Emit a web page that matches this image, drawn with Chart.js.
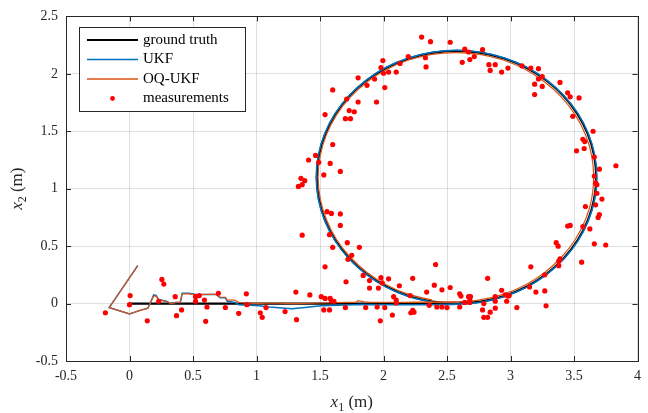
<!DOCTYPE html>
<html>
<head>
<meta charset="utf-8">
<script src="https://cdn.jsdelivr.net/npm/chart.js@4/dist/chart.umd.min.js"></script>
<style>
  html, body { margin: 0; padding: 0; background: #fff; }
  #wrap { width: 648px; height: 413px; }
</style>
</head>
<body>
<div id="wrap"><canvas id="myChart" width="648" height="413"></canvas></div>
<script>
(function(){
  'use strict';

  const truthX = [0, 1.2, 2.4, 2.575, 2.766, 2.951, 3.125, 3.282, 3.418, 3.528, 3.609, 3.658, 3.675,
    3.658, 3.609, 3.528, 3.418, 3.282, 3.125, 2.951, 2.766, 2.575, 2.384, 2.199, 2.025, 1.868,
    1.732, 1.622, 1.541, 1.492, 1.475, 1.492, 1.541, 1.622, 1.732, 1.868, 2.025, 2.199, 2.384, 2.575];
  const truthY = [0, 0, 0, 0, 0.017, 0.066, 0.147, 0.257, 0.393, 0.55, 0.724, 0.909, 1.10,
    1.291, 1.476, 1.65, 1.807, 1.943, 2.053, 2.134, 2.183, 2.20, 2.183, 2.134, 2.053, 1.943,
    1.807, 1.65, 1.476, 1.291, 1.10, 0.909, 0.724, 0.55, 0.393, 0.257, 0.147, 0.066, 0.017, 0];

  // estimates: jagged straight run, then the loop
  const ukfRunX = [0.065, -0.16, 0.0, 0.09, 0.145, 0.17, 0.19, 0.21, 0.23, 0.29, 0.325, 0.365, 0.40,
    0.415, 0.47, 0.52, 0.60, 0.68, 0.715, 0.755, 0.77, 0.83, 0.86, 0.95, 1.02, 1.10, 1.15, 1.28,
    1.38, 1.51, 1.70, 1.82, 2.10, 2.40, 2.575];
  const ukfRunY = [0.33, -0.035, -0.09, -0.057, -0.04, 0.02, 0.075, 0.07, 0.035, 0.02, 0.0, 0.01, 0.01,
    0.09, 0.09, 0.08, 0.08, 0.08, 0.05, 0.05, 0.02, 0.01, -0.01, -0.015, -0.02, -0.03, -0.035, -0.045,
    -0.035, -0.02, -0.012, -0.008, -0.01, -0.01, -0.005];
  const ukfLoopX = [2.40, 2.575, 2.767, 2.953, 3.128, 3.285, 3.421, 3.532, 3.613,
    3.663, 3.680, 3.663, 3.613, 3.532, 3.421, 3.285, 3.128, 2.953, 2.767, 2.575, 2.383, 2.197,
    2.022, 1.865, 1.729, 1.618, 1.537, 1.487, 1.470, 1.487, 1.537, 1.618, 1.729, 1.865, 2.022,
    2.197, 2.383];
  const ukfLoopY = [-0.01, -0.005, 0.012, 0.062, 0.143, 0.254, 0.390, 0.548,
    0.722, 0.908, 1.10, 1.292, 1.478, 1.653, 1.810, 1.946, 2.057, 2.138, 2.188, 2.205, 2.188, 2.138,
    2.057, 1.946, 1.810, 1.653, 1.478, 1.292, 1.10, 0.908, 0.722, 0.548, 0.390, 0.254, 0.143,
    0.062, 0.012];

  const oqRunX = [0.065, -0.16, 0.0, 0.09, 0.145, 0.17, 0.19, 0.21, 0.23, 0.29, 0.325, 0.365, 0.40,
    0.415, 0.47, 0.52, 0.60, 0.68, 0.715, 0.755, 0.77, 0.83, 0.86, 0.91, 1.02, 1.10, 1.30, 1.50,
    1.70, 1.78, 1.80, 1.85, 1.90, 2.20, 2.57];
  const oqRunY = [0.33, -0.035, -0.09, -0.057, -0.04, 0.02, 0.065, 0.065, 0.03, 0.02, 0.0, 0.01, 0.01,
    0.085, 0.085, 0.075, 0.08, 0.08, 0.055, 0.055, 0.03, 0.03, 0.01, 0.005, 0.0, 0.005, 0.0, 0.005,
    0.01, 0.01, 0.025, 0.015, 0.01, 0.01, 0.015];
  const oqLoopX = [2.20, 2.57, 2.758, 2.941, 3.113, 3.267, 3.401, 3.510, 3.590,
    3.639, 3.655, 3.639, 3.590, 3.510, 3.401, 3.267, 3.113, 2.941, 2.758, 2.57, 2.382, 2.199,
    2.028, 1.873, 1.739, 1.630, 1.551, 1.502, 1.485, 1.502, 1.551, 1.630, 1.739, 1.873, 2.028,
    2.199, 2.382];
  const oqLoopY = [0.01, 0.015, 0.032, 0.080, 0.160, 0.269, 0.403, 0.558, 0.729,
    0.912, 1.10, 1.288, 1.471, 1.643, 1.797, 1.931, 2.040, 2.120, 2.169, 2.185, 2.169, 2.120,
    2.040, 1.931, 1.797, 1.643, 1.471, 1.288, 1.10, 0.912, 0.729, 0.558, 0.403, 0.269, 0.160,
    0.080, 0.032];

  const measX = [-0.19, 0.005, 0.0, 0.255, 0.27, 0.14, 0.23, 0.36, 0.37, 0.41, 0.52, 0.55, 0.52, 0.59,
    0.61, 0.60, 0.70, 0.755, 0.86, 0.92, 0.925, 1.03, 1.045, 1.075, 1.225, 1.31, 1.315, 1.42, 1.54,
    1.51, 1.54, 1.58, 1.59, 1.61, 1.53, 1.575, 1.70, 1.705, 1.84, 1.89, 1.89, 1.86, 1.95, 1.96, 1.98,
    1.99, 2.04, 2.01, 1.975, 2.07, 2.08, 2.10, 2.10, 2.125, 2.21, 2.23, 2.215, 2.23, 2.24, 2.41, 2.40,
    2.34, 2.36, 2.42, 2.46, 2.46, 2.50, 2.525, 2.60, 2.61, 2.64, 2.60, 2.67, 2.685, 2.68, 2.68, 2.78,
    2.79, 2.82, 2.84, 2.82, 2.79, 2.88, 2.88, 2.88, 2.93, 2.96, 2.98, 2.99, 2.97, 3.05, 3.15, 3.16,
    3.20, 3.27, 3.27, 3.28, 3.36, 3.375, 3.39, 3.38, 3.38, 3.45, 3.47, 3.56, 3.57, 3.625, 3.66, 3.75,
    3.59, 3.67, 3.69, 3.70, 3.72, 3.68, 3.67, 3.68, 3.66, 3.83, 3.70, 3.66, 3.52, 3.58, 3.57, 3.585,
    3.65, 3.49, 3.54, 3.45, 3.47, 3.39, 3.19, 3.25, 3.19, 3.25, 3.22, 3.22, 3.16, 3.09, 2.98, 2.93,
    2.84, 2.88, 2.83, 2.78, 2.715, 2.68, 2.67, 2.64, 2.62, 2.525, 2.37, 2.30, 2.33, 2.335, 2.195,
    2.13, 2.10, 2.04, 2.0, 1.98, 1.995, 2.01, 1.93, 1.87, 1.80, 1.945, 1.80, 1.71, 1.60, 1.73, 1.77,
    1.70, 1.74, 1.54, 1.60, 1.41, 1.465, 1.49, 1.58, 1.53, 1.66, 1.35, 1.38, 1.36, 1.33, 1.555, 1.59,
    1.66, 1.66, 1.36, 1.575, 1.715, 1.81, 1.60, 1.75, 1.72];
  const measY = [-0.08, 0.07, -0.01, 0.21, 0.17, -0.15, 0.02, 0.06, -0.105, -0.055, 0.06, 0.07, 0.02,
    0.03, -0.03, -0.155, 0.09, -0.035, -0.085, 0.085, -0.01, -0.08, -0.12, -0.035, -0.07, 0.10, -0.14,
    0.075, 0.32, 0.06, 0.045, 0.045, 0.025, 0.02, -0.055, -0.055, -0.035, 0.19, 0.245, 0.20, 0.135,
    -0.035, -0.03, 0.135, 0.225, 0.18, 0.215, -0.035, -0.15, -0.10, 0.06, 0.03, 0.005, 0.155, 0.07,
    0.22, -0.08, -0.06, -0.075, 0.34, 0.16, 0.10, -0.015, -0.03, 0.12, -0.03, -0.035, 0.14, 0.085,
    0.065, 0.01, -0.03, 0.06, 0.06, 0.025, 0.01, -0.055, -0.12, -0.12, -0.075, 0.22, 0.0, 0.06, 0.02,
    -0.04, 0.115, 0.075, 0.065, 0.07, 0.02, -0.035, 0.145, 0.32, 0.10, 0.11, 0.25, -0.02, 0.53, 0.50,
    0.39, 0.37, 0.33, 0.675, 0.68, 0.36, 0.67, 0.65, 0.52, 0.51, 0.845, 0.86, 0.75, 0.775, 0.91, 0.96,
    1.05, 1.035, 1.11, 1.20, 1.17, 1.275, 1.33, 1.35, 1.43, 1.41, 1.50, 1.63, 1.79, 1.835, 1.80,
    1.925, 1.82, 1.89, 1.91, 1.975, 1.955, 2.045, 2.05, 2.07, 2.05, 2.015, 2.03, 2.08, 2.08, 2.21,
    2.15, 2.125, 2.19, 2.215, 2.10, 2.275, 2.28, 2.32, 2.14, 2.06, 2.15, 2.09, 2.015, 2.015, 2.005,
    2.055, 2.115, 1.88, 1.955, 1.90, 1.965, 1.755, 1.755, 1.78, 1.86, 1.68, 1.67, 1.61, 1.61, 1.645,
    1.385, 1.25, 1.29, 1.23, 1.22, 1.12, 1.15, 1.09, 1.07, 1.035, 1.02, 0.80, 0.785, 0.78, 0.68,
    0.595, 0.60, 0.53, 0.49, 0.49, 0.42, 0.385];

  const seriesNames = ['ground truth', 'UKF', 'OQ-UKF', 'measurements'];
  const xTicks = [-0.5, 0, 0.5, 1, 1.5, 2, 2.5, 3, 3.5, 4];
  const yTicks = [-0.5, 0, 0.5, 1, 1.5, 2, 2.5];

  const AXIS = '#262626';
  const GRID = 'rgba(38,38,38,0.15)';
  const BLUE = '#0072BD';
  const ORANGE = '#D95319';
  const SERIF = '"Liberation Serif", "DejaVu Serif", serif';

  function zipXY(xs, ys){
    return xs.map((x, i) => ({ x: x, y: ys[i] }));
  }

  function lineSet(label, xs, ys, color, width, tension, order){
    return { label: label, data: zipXY(xs, ys), showLine: true, borderColor: color,
      borderWidth: width, pointRadius: 0, tension: tension, order: order };
  }

  function drawAxisTitle(ctx, sub, x, y, rotate){
    ctx.save();
    ctx.translate(x, y);
    if (rotate) ctx.rotate(-Math.PI / 2);
    ctx.fillStyle = AXIS;
    ctx.textBaseline = 'alphabetic';
    const fBase = 'italic 17px ' + SERIF;
    const fSub = '12px ' + SERIF;
    const fRest = '17px ' + SERIF;
    ctx.font = fBase; const w1 = ctx.measureText('x').width;
    ctx.font = fSub;  const w2 = ctx.measureText(sub).width;
    ctx.font = fRest; const w3 = ctx.measureText(' (m)').width;
    let cx = -(w1 + w2 + w3) / 2;
    ctx.textAlign = 'left';
    ctx.font = fBase; ctx.fillText('x', cx, 0); cx += w1;
    ctx.font = fSub;  ctx.fillText(sub, cx, 4); cx += w2;
    ctx.font = fRest; ctx.fillText(' (m)', cx, 0);
    ctx.restore();
  }

  const matlabFrame = {
    id: 'matlabFrame',
    afterDraw(chart){
      const ctx = chart.ctx;
      const a = chart.chartArea;
      const xs = chart.scales.x, ys = chart.scales.y;

      ctx.save();
      ctx.strokeStyle = AXIS;
      ctx.lineWidth = 1;
      ctx.beginPath();
      xTicks.forEach(v => {
        const px = Math.round(xs.getPixelForValue(v)) + 0.5;
        ctx.moveTo(px, a.bottom); ctx.lineTo(px, a.bottom - 5);
        ctx.moveTo(px, a.top); ctx.lineTo(px, a.top + 5);
      });
      yTicks.forEach(v => {
        const py = Math.round(ys.getPixelForValue(v)) + 0.5;
        ctx.moveTo(a.left, py); ctx.lineTo(a.left + 5, py);
        ctx.moveTo(a.right, py); ctx.lineTo(a.right - 5, py);
      });
      ctx.stroke();
      ctx.strokeRect(Math.round(a.left) + 0.5, Math.round(a.top) + 0.5,
        Math.round(a.right - a.left), Math.round(a.bottom - a.top));

      // legend box, top-left inside the axes
      const lx = 79.5, ly = 27.5, lw = 166, lh = 84;
      ctx.fillStyle = '#fff';
      ctx.fillRect(lx, ly, lw, lh);
      ctx.strokeRect(lx, ly, lw, lh);
      const rows = [40, 59.5, 79, 98.5];
      const styles = [
        { color: '#000', width: 2 },
        { color: BLUE, width: 1.5 },
        { color: ORANGE, width: 1.5 },
        null
      ];
      ctx.font = '15px ' + SERIF;
      ctx.textBaseline = 'middle';
      ctx.textAlign = 'left';
      rows.forEach((ry, i) => {
        const s = styles[i];
        if (s){
          ctx.strokeStyle = s.color;
          ctx.lineWidth = s.width;
          ctx.beginPath();
          ctx.moveTo(87, ry); ctx.lineTo(138, ry);
          ctx.stroke();
        } else {
          ctx.fillStyle = '#ff0000';
          ctx.beginPath();
          ctx.arc(112.5, ry, 2.4, 0, Math.PI * 2);
          ctx.fill();
        }
        ctx.fillStyle = '#000';
        ctx.fillText(seriesNames[i], 143, ry);
      });
      ctx.restore();

      drawAxisTitle(ctx, '1', (a.left + a.right) / 2, 407, false);
      drawAxisTitle(ctx, '2', 22, (a.top + a.bottom) / 2, true);
    }
  };

  function init(){
    const ctx = document.getElementById('myChart').getContext('2d');
    const tickFont = { family: SERIF, size: 14 };

    new Chart(ctx, {
      type: 'scatter',
      data: {
        datasets: [
          lineSet(seriesNames[0], truthX, truthY, '#000', 2.2, 0.4, 5),
          lineSet(seriesNames[1], ukfRunX, ukfRunY, BLUE, 1.5, 0, 4),
          lineSet(seriesNames[1], ukfLoopX, ukfLoopY, BLUE, 1.5, 0.4, 3),
          lineSet(seriesNames[2], oqRunX, oqRunY, ORANGE, 1.2, 0, 2),
          lineSet(seriesNames[2], oqLoopX, oqLoopY, ORANGE, 1.2, 0.4, 1),
          { label: seriesNames[3], data: zipXY(measX, measY), showLine: false,
            backgroundColor: '#ff0000', borderWidth: 0, pointRadius: 2.6, order: 0 }
        ]
      },
      options: {
        responsive: false,
        animation: false,
        devicePixelRatio: 1,
        layout: { padding: { left: 0, right: 6, top: 11, bottom: 0 } },
        plugins: { legend: { display: false }, tooltip: { enabled: false } },
        scales: {
          x: {
            type: 'linear', min: -0.5, max: 4,
            afterBuildTicks: s => { s.ticks = xTicks.map(v => ({ value: v })); },
            ticks: { font: tickFont, color: AXIS, padding: 7, maxRotation: 0,
                     callback: v => String(v) },
            grid: { color: GRID, drawTicks: false },
            border: { display: false },
            afterFit: s => { s.height = 52; }
          },
          y: {
            type: 'linear', min: -0.5, max: 2.5,
            afterBuildTicks: s => { s.ticks = yTicks.map(v => ({ value: v })); },
            ticks: { font: tickFont, color: AXIS, padding: 8,
                     callback: v => String(v) },
            grid: { color: GRID, drawTicks: false },
            border: { display: false },
            afterFit: s => { s.width = 66; }
          }
        }
      },
      plugins: [matlabFrame]
    });
  }

  if (document.readyState === 'loading'){
    document.addEventListener('DOMContentLoaded', init);
  } else {
    init();
  }
})();
</script>
</body>
</html>
